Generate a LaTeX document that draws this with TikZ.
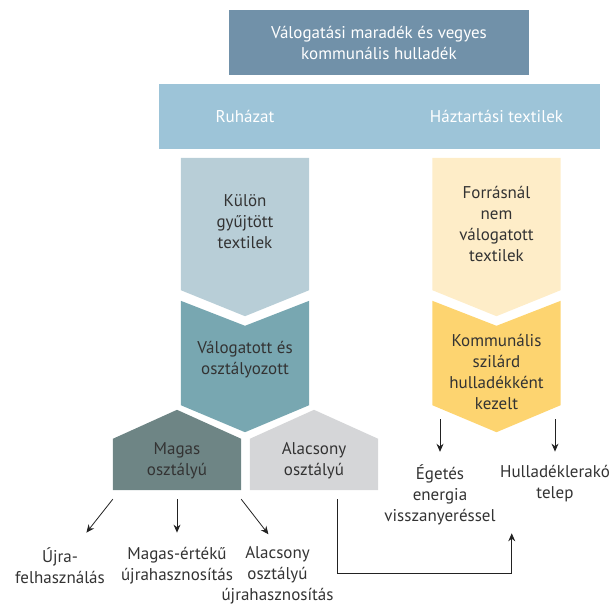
\documentclass[tikz,border=0pt]{standalone}
\usepackage{fontspec}
\setmainfont{PT Sans}
\usetikzlibrary{calc,positioning,arrows.meta}
\definecolor{maradekszin}{HTML}{7191A9}
\definecolor{tipusszin}{HTML}{9DC4D8}
\definecolor{kulonszin}{HTML}{B8CED7}
\definecolor{valogszin}{HTML}{78A7B1}
\definecolor{forrasszin}{HTML}{FEEDC8}
\definecolor{kommunszin}{HTML}{FDD470}
\definecolor{magasszin}{HTML}{6E8585}
\definecolor{alacsszin}{HTML}{D5D6D8}
\definecolor{szovegszin}{HTML}{333333}
\definecolor{nyilszin}{HTML}{222222}

\begin{document}
\begin{tikzpicture}[x=1pt, y=-1pt, font=\fontsize{17}{21}\selectfont, >={Stealth[length=8pt,width=7pt]}]
	\tikzstyle{alak}=[inner sep=0pt, minimum width=128pt]
	\tikzstyle{felirat}=[inner sep=0pt, align=center, text=szovegszin]
	\tikzstyle{nyil}=[->, line width=0.8pt, draw=nyilszin]
	
	\useasboundingbox (0,0) rectangle (614,605);
	
	\node[fill=maradekszin, minimum width=300pt, minimum height=65pt, inner sep=0pt, align=center, text=white] (maradek) at (379,42.5) {Válogatási maradék és vegyes\\kommunális hulladék};
	\node[fill=tipusszin, minimum width=441pt, minimum height=65pt, inner sep=0pt] (tipus) at (379.5,116.5) {};
	
	\node[alak, minimum height=132pt] (kulon)  at (245,224)   {};
	\node[alak, minimum height=104pt] (valog)  at (245,353)   {};
	\node[alak, minimum height=132pt] (forras) at (496.5,224) {};
	\node[alak, minimum height=104pt] (kommun) at (496.5,353) {};
	\node[alak, minimum height=51pt]  (magas)  at (177,464.5) {};
	\node[alak, minimum height=51pt]  (alacs)  at (314,464.5) {};
	
	% lefele mutato alakok
	\foreach \n/\c in {kulon/kulonszin, forras/forrasszin}
		\fill[\c] (\n.north west) -- (\n.north east) -- (\n.south east) -- ([yshift=-26pt]\n.south) -- (\n.south west) -- cycle;
	\foreach \n/\c in {valog/valogszin, kommun/kommunszin}
		\fill[\c] (\n.north west) -- ([yshift=-25pt]\n.north) -- (\n.north east) -- (\n.south east) -- ([yshift=-27pt]\n.south) -- (\n.south west) -- cycle;
	\foreach \n/\c in {magas/magasszin, alacs/alacsszin}
		\fill[\c] (\n.north west) -- ([yshift=29pt]\n.north) -- (\n.north east) -- (\n.south east) -- (\n.south west) -- cycle;
	
	\node[felirat, text=white] (ruha)    at (kulon |- tipus)  {Ruházat};
	\node[felirat, text=white] (haztart) at (forras |- tipus) {Háztartási textilek};
	\node[felirat] (kulon-sz)  at ([yshift=2pt]kulon)    {Külön\\gyűjtött\\textilek};
	\node[felirat] (valog-sz)  at ([yshift=-7pt]valog)   {Válogatott és\\osztályozott};
	\node[felirat] (forras-sz) at (forras)               {Forrásnál\\nem\\válogatott\\textilek};
	\node[felirat] (kommun-sz) at ([yshift=-19pt]kommun) {Kommunális\\szilárd\\hulladékként\\kezelt};
	\node[felirat] (magas-sz)  at ([yshift=4pt]magas)    {Magas\\osztályú};
	\node[felirat] (alacs-sz)  at ([yshift=4pt]alacs)    {Alacsony\\osztályú};
	
	\node[felirat] (ujra)     at (60,566)    {Újra-\\felhasználás};
	\node[felirat] (magasert) at (177,566)   {Magas-értékű\\újrahasznosítás};
	\node[felirat] (alacsert) at (277.5,575) {Alacsony\\osztályú\\újrahasznosítás};
	\node[felirat] (eget)     at (440,495)   {Égetés\\energia\\visszanyeréssel};
	\node[felirat] (lerako)   at (555,484)   {Hulladéklerakó\\telep};
	
	% nyilak
	\coordinate (m1) at ([yshift=-9pt]magas.south west);
	\coordinate (m2) at ([yshift=-9pt]magas.south);
	\coordinate (m3) at ([yshift=-9pt]magas.south east);
	\coordinate (k1) at ($(kommun.south west -| eget)+(0,14)$);
	\coordinate (k2) at ($(kommun.south west -| lerako)+(0,14)$);
	\coordinate (a1) at ($(alacs.south)+(23,9)$);
	\coordinate (a2) at ($(eget.south east)+(16,8)$);
	
	\draw[nyil] (m1) -- ($(m1)!0.5!(ujra)$);
	\draw[nyil] (m2) -- ($(m2)!0.5!(magasert)$);
	\draw[nyil] (m3) -- ($(m3)!0.75!(alacsert.north)$);
	\draw[nyil] (k1) -- ($(k1)!0.43!(eget)$);
	\draw[nyil] (k2) -- ($(k2)!0.5!(lerako)$);
	\draw[nyil] (a1) |- ($(a2)+(0,40)$) -- (a2);
\end{tikzpicture}
\end{document}
